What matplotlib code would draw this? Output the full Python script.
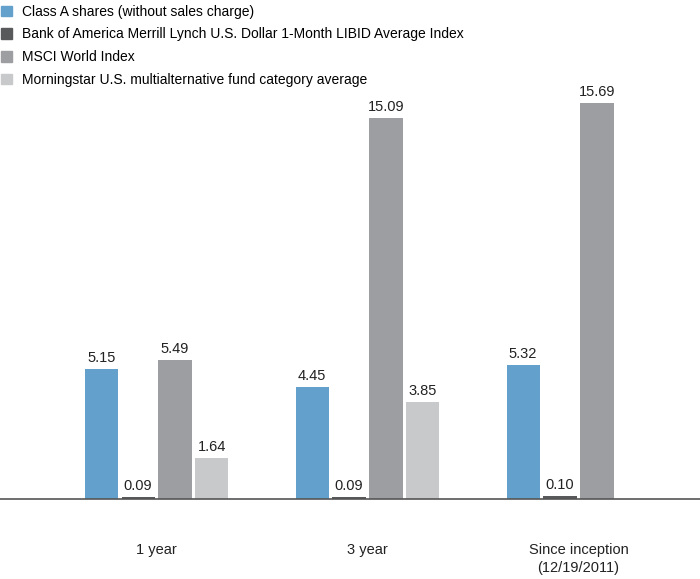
import matplotlib.pyplot as plt
from matplotlib.patches import Patch
import numpy as np

plt.rcParams['font.family'] = ['Liberation Sans', 'DejaVu Sans']

# data
periods = ['1 year', '3 year', 'Since inception\n(12/19/2011)']
series = ['Class A shares (without sales charge)',
          'Bank of America Merrill Lynch U.S. Dollar 1-Month LIBID Average Index',
          'MSCI World Index',
          'Morningstar U.S. multialternative fund category average']
class_a = [5.15, 4.45, 5.32]
libid = [0.09, 0.09, 0.10]
msci = [5.49, 15.09, 15.69]
morningstar = [1.64, 3.85, None]
colors = ['#64a0cc', '#58595b', '#9d9ea2', '#c8c9cb']

fig = plt.figure(figsize=(7, 5.79), dpi=100)
ax = fig.add_axes([0, 80 / 579, 1, 409 / 579])

x = np.arange(len(periods))
width = 0.157
step = 0.175
offsets = [-1.5, -0.5, 0.5, 1.5]

for vals, off, col, name in zip([class_a, libid, msci, morningstar], offsets, colors, series):
    xs = [xi + off * step for xi, v in zip(x, vals) if v is not None]
    vs = [v for v in vals if v is not None]
    bars = ax.bar(xs, vs, width, color=col, label=name)
    for b, v in zip(bars, vs):
        ax.text(b.get_x() + b.get_width() / 2, v + 0.16, '%.2f' % v,
                ha='center', va='bottom', fontsize=10.5, color='#222222')

ax.set_xlim(-0.742, 2.576)
ax.set_ylim(0, 16.2)
ax.set_xticks(x)
ax.set_xticklabels(periods, fontsize=10.5, color='#222222', linespacing=1.35)
ax.tick_params(axis='x', length=0, pad=32)
ax.set_yticks([])
for s in ['top', 'left', 'right']:
    ax.spines[s].set_visible(False)
ax.spines['bottom'].set_color('#555555')
ax.spines['bottom'].set_linewidth(1.2)

handles = [Patch(color=c) for c in colors]
fig.legend(handles, series, loc='upper left', bbox_to_anchor=(-0.01, 1.006),
           frameon=False, fontsize=10, handlelength=0.8, handleheight=0.8,
           handletextpad=0.7, labelspacing=0.62, borderaxespad=0.2)

plt.savefig('out.png', dpi=100)
